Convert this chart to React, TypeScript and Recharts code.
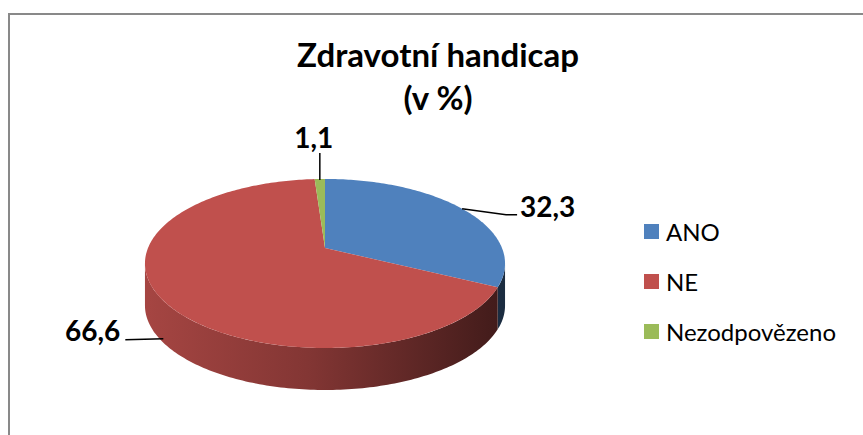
import React from 'react'
import { PieChart, Pie, Legend } from 'recharts'

// data (percent)
const categories = ['ANO', 'NE', 'Nezodpovězeno']
const values = [32.3, 66.6, 1.1]
const colors = ['#4f81bd', '#c0504d', '#9bbb59']

const data = categories.map((name, i) => ({ name, value: values[i], fill: colors[i] }))

const W = 863
const H = 435
// pie apex and radius; the tilted disc is drawn with a small perspective like Excel's 3-D pie
const CX = 325
const CY = 248
const R = 177
const TILT = 81.7 / 177 // vertical squash
const PERSP = 0.183 // near side looks bigger
const DEPTH = 42
const FONT = 'Lato, "Open Sans", sans-serif'
const RAD = Math.PI / 180

// leader line points + text position, relative to the rim point at midAngle
const LABEL_LAYOUT: Record<string, { lead: number[][]; text: number[]; anchor: 'start' | 'middle' | 'end' }> = {
    ANO: { lead: [[0, 0], [44, 6], [55, 6]], text: [58, -3], anchor: 'start' },
    NE: { lead: [[2, 40], [-36, 41]], text: [-41, 31], anchor: 'end' },
    Nezodpovězeno: { lead: [[0, 1], [0, -26]], text: [-6, -42], anchor: 'middle' },
}

const shade = (hex: string, k: number) => {
    const n = parseInt(hex.slice(1), 16)
    const r = Math.round(((n >> 16) & 255) * k)
    const g = Math.round(((n >> 8) & 255) * k)
    const b = Math.round((n & 255) * k)
    return `rgb(${r},${g},${b})`
}

// angle (recharts convention, degrees) -> screen point on the tilted rim
const proj = (cx: number, cy: number, r: number, a: number) => {
    const u = Math.cos(a * RAD)
    const v = -Math.sin(a * RAD)
    const w = 1 - PERSP * v
    return [cx + (r * u) / w, cy + (r * TILT * v) / w]
}

const arcPts = (cx: number, cy: number, r: number, from: number, to: number, dy = 0) => {
    const n = Math.max(2, Math.ceil(Math.abs(from - to)))
    const out: string[] = []
    for (let i = 0; i <= n; i++) {
        const a = from + ((to - from) * i) / n
        const [x, y] = proj(cx, cy, r, a)
        out.push(`${x.toFixed(2)},${(y + dy).toFixed(2)}`)
    }
    return out
}

const SIDE_LIMIT = Math.asin(PERSP) / RAD

function Slice3D(props: any) {
    const { cx, cy, outerRadius, startAngle, endAngle, fill, name } = props
    const hi = Math.max(startAngle, endAngle)
    const lo = Math.min(startAngle, endAngle)
    const top = [`${cx},${cy}`, ...arcPts(cx, cy, outerRadius, hi, lo)]

    // outer wall only where the rim is the lower edge of the disc
    const whi = Math.min(hi, -SIDE_LIMIT)
    const wlo = Math.max(lo, -180 + SIDE_LIMIT)
    const gid = `wall-${String(name).replace(/[^a-zA-Z]/g, '')}`
    let wall = null
    if (whi > wlo) {
        const upper = arcPts(cx, cy, outerRadius, whi, wlo)
        const lower = arcPts(cx, cy, outerRadius, wlo, whi, DEPTH)
        wall = (
            <>
                <defs>
                    <linearGradient id={gid} gradientUnits="userSpaceOnUse" x1={cx - outerRadius} y1={0} x2={cx + outerRadius} y2={0}>
                        <stop offset="0%" stopColor={shade(fill, 0.86)} />
                        <stop offset="45%" stopColor={shade(fill, 0.68)} />
                        <stop offset="100%" stopColor={shade(fill, 0.34)} />
                    </linearGradient>
                </defs>
                <polygon points={[...upper, ...lower].join(' ')} fill={`url(#${gid})`} />
            </>
        )
    }
    return (
        <g>
            {wall}
            <polygon points={top.join(' ')} fill={fill} />
        </g>
    )
}

const renderLabel = (props: any) => {
    const { cx, cy, midAngle, outerRadius, value, name } = props
    const [ax, ay] = proj(cx, cy, outerRadius, midAngle)
    const lay = LABEL_LAYOUT[name]
    if (!lay) return null
    const pts = lay.lead.map(([dx, dy]) => `${ax + dx},${ay + dy}`).join(' ')
    return (
        <g>
            <polyline points={pts} fill="none" stroke="#000" strokeWidth={1.5} />
            <text
                x={ax + lay.text[0]}
                y={ay + lay.text[1]}
                textAnchor={lay.anchor}
                dominantBaseline="central"
                fontFamily={FONT}
                fontWeight={700}
                fontSize={28}
                fill="#000"
            >
                {String(value).replace('.', ',')}
            </text>
        </g>
    )
}

const renderLegend = () => (
    <div style={{ fontFamily: FONT, fontSize: 24, color: '#000' }}>
        {categories.map((c, i) => (
            <div key={c} style={{ display: 'flex', alignItems: 'center', height: 50 }}>
                <span style={{ width: 15, height: 15, background: colors[i], marginRight: 7, display: 'inline-block' }} />
                <span>{c}</span>
            </div>
        ))}
    </div>
)

export default function App() {
    return (
        <div style={{ position: 'absolute', left: 0, top: 0, width: W, height: H, background: '#fff', overflow: 'hidden' }}>
            <div
                style={{
                    position: 'absolute',
                    left: 8,
                    top: 13,
                    width: W,
                    height: H,
                    border: '2px solid #898989',
                    boxSizing: 'border-box',
                }}
            />
            <div
                style={{
                    position: 'absolute',
                    left: 238,
                    top: 33,
                    width: 400,
                    textAlign: 'center',
                    fontFamily: FONT,
                    fontWeight: 700,
                    fontSize: 33,
                    lineHeight: '43px',
                    color: '#000',
                }}
            >
                Zdravotní handicap
                <br />
                (v %)
            </div>
            <div style={{ position: 'absolute', left: 0, top: 0 }}>
                <PieChart width={W} height={H} margin={{ top: 0, right: 0, bottom: 0, left: 0 }}>
                    <Pie
                        data={data}
                        dataKey="value"
                        nameKey="name"
                        cx={CX}
                        cy={CY}
                        outerRadius={R}
                        startAngle={90}
                        endAngle={-270}
                        stroke="none"
                        shape={Slice3D}
                        label={renderLabel}
                        labelLine={false}
                        isAnimationActive={false}
                    />
                    <Legend
                        content={renderLegend}
                        wrapperStyle={{ position: 'absolute', left: 644, top: 206, width: 215 }}
                    />
                </PieChart>
            </div>
        </div>
    )
}
